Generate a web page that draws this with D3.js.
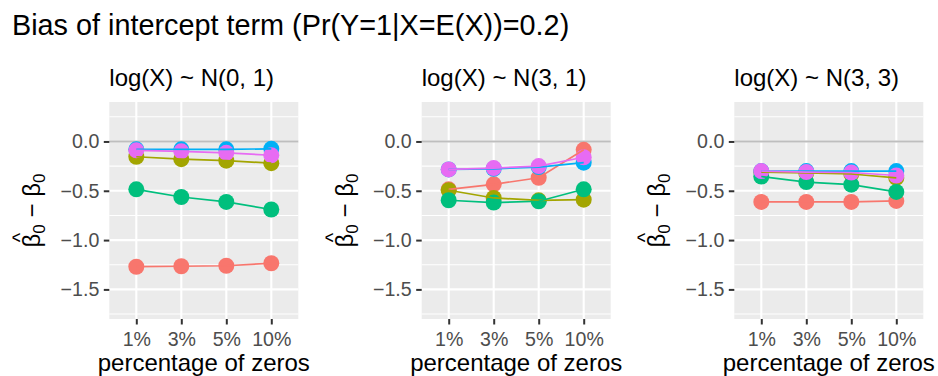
<!DOCTYPE html>
<html lang="en">
<head>
  <meta charset="UTF-8">
  <title>Bias of intercept term</title>
  <style>
    body { margin: 0; background: #fff; }
    svg { font-family: "Liberation Sans", Arial, sans-serif; }
    .grid-major { stroke: #fff; stroke-width: 2.1; }
    .grid-minor { stroke: #fff; stroke-width: 1.1; }
    .tick-lab { fill: #4d4d4d; font-size: 19.6px; }
  </style>
</head>
<body>
<div id="chart"></div>
<script src="https://d3js.org/d3.v7.min.js"></script>
<script>
  // data
  const zeroPct = ["1%", "3%", "5%", "10%"];
  const seriesNames = ["s1", "s2", "s3", "s4", "s5"];
  const seriesColors = ["#F8766D", "#A3A500", "#00BF7D", "#00B0F6", "#E76BF3"];
  const panelTitles = ["log(X) ~ N(0, 1)", "log(X) ~ N(3, 1)", "log(X) ~ N(3, 3)"];
  const yTicks = [0, -0.5, -1, -1.5];
  const yMinor = [0.25, -0.25, -0.75, -1.25, -1.75];

  // bias per panel, per series (in seriesNames order), per zero percentage
  const biasN01 = [
    [-1.27, -1.265, -1.26, -1.235],
    [-0.155, -0.18, -0.195, -0.22],
    [-0.485, -0.563, -0.613, -0.69],
    [-0.08, -0.08, -0.08, -0.075],
    [-0.09, -0.10, -0.115, -0.14]
  ];
  const biasN31 = [
    [-0.485, -0.435, -0.368, -0.085],
    [-0.495, -0.573, -0.597, -0.59],
    [-0.596, -0.62, -0.606, -0.485],
    [-0.284, -0.277, -0.26, -0.215],
    [-0.284, -0.27, -0.25, -0.16]
  ];
  const biasN33 = [
    [-0.613, -0.613, -0.613, -0.603],
    [-0.31, -0.32, -0.33, -0.37],
    [-0.355, -0.412, -0.438, -0.512],
    [-0.30, -0.30, -0.30, -0.30],
    [-0.30, -0.31, -0.315, -0.345]
  ];
  const panels = [biasN01, biasN31, biasN33];

  const width = 938, height = 376;
  const panelLeft = [109.3, 421.7, 734.3];
  const panelW = 189, panelTop = 102, panelBottom = 319;

  const svg = d3.select("#chart").append("svg")
    .attr("width", width).attr("height", height);

  svg.append("text")
    .attr("x", 12).attr("y", 35)
    .style("font-size", "28.8px")
    .text("Bias of intercept term (Pr(Y=1|X=E(X))=0.2)");

  const y = d3.scaleLinear().domain([-1.8, 0.4]).range([panelBottom, panelTop]);

  panels.forEach((pdata, pi) => {
    const x0 = panelLeft[pi];
    const x = d3.scalePoint().domain(zeroPct).range([x0, x0 + panelW]).padding(0.6);
    const g = svg.append("g");

    g.append("text")
      .attr("x", x0).attr("y", 86)
      .style("font-size", "24px")
      .text(panelTitles[pi]);

    g.append("rect")
      .attr("x", x0).attr("y", panelTop)
      .attr("width", panelW).attr("height", panelBottom - panelTop)
      .attr("fill", "#ebebeb");

    g.selectAll(".grid-minor").data(yMinor).enter().append("line")
      .attr("class", "grid-minor")
      .attr("x1", x0).attr("x2", x0 + panelW)
      .attr("y1", d => y(d)).attr("y2", d => y(d));

    g.selectAll(".grid-major.h").data(yTicks).enter().append("line")
      .attr("class", "grid-major h")
      .attr("x1", x0).attr("x2", x0 + panelW)
      .attr("y1", d => y(d)).attr("y2", d => y(d));

    g.selectAll(".grid-major.v").data(zeroPct).enter().append("line")
      .attr("class", "grid-major v")
      .attr("x1", d => x(d)).attr("x2", d => x(d))
      .attr("y1", panelTop).attr("y2", panelBottom);

    // reference line at zero
    g.append("line")
      .attr("x1", x0).attr("x2", x0 + panelW)
      .attr("y1", y(0)).attr("y2", y(0))
      .attr("stroke", "#bebebe").attr("stroke-width", 2);

    // axes
    const yAxis = g.append("g")
      .attr("transform", `translate(${x0},0)`)
      .call(d3.axisLeft(y).tickValues(yTicks).tickSize(5.5).tickPadding(4.5)
        .tickFormat(d => d3.format(".1f")(d).replace("-", "\u2212")));
    const xAxis = g.append("g")
      .attr("transform", `translate(0,${panelBottom})`)
      .call(d3.axisBottom(x).tickSize(5.5).tickPadding(8));
    [yAxis, xAxis].forEach(a => {
      a.select(".domain").remove();
      a.selectAll(".tick line").attr("stroke", "#333").attr("stroke-width", 2);
      a.selectAll(".tick text").attr("class", "tick-lab")
        .attr("fill", "#4d4d4d").style("font-family", "inherit");
    });

    g.append("text")
      .attr("x", x0 + panelW / 2).attr("y", 370.5)
      .attr("text-anchor", "middle")
      .style("font-size", "24px")
      .text("percentage of zeros");

    // y axis title: beta-hat_0 - beta_0
    const ty = g.append("g")
      .attr("transform", `translate(${x0 - 69},${(panelTop + panelBottom) / 2}) rotate(-90)`);
    const lab = ty.append("text").attr("text-anchor", "middle").style("font-size", "24px");
    lab.append("tspan").text("\u03b2");
    lab.append("tspan").attr("dy", 5).style("font-size", "17px").text("0");
    lab.append("tspan").attr("dy", -5).text(" \u2212 \u03b2");
    lab.append("tspan").attr("dy", 5).style("font-size", "17px").text("0");
    ty.append("text")
      .attr("x", -27).attr("y", -13)
      .attr("text-anchor", "middle")
      .style("font-size", "20px")
      .text("^");

    // points
    pdata.forEach((vals, si) => {
      g.selectAll(null).data(vals).enter().append("circle")
        .attr("cx", (d, i) => x(zeroPct[i]))
        .attr("cy", d => y(d))
        .attr("r", 8)
        .attr("fill", seriesColors[si]);
    });
    // lines
    const line = d3.line().x((d, i) => x(zeroPct[i])).y(d => y(d));
    pdata.forEach((vals, si) => {
      g.append("path")
        .datum(vals)
        .attr("d", line)
        .attr("fill", "none")
        .attr("stroke", seriesColors[si])
        .attr("stroke-width", 1.7);
    });
  });
</script>
</body>
</html>
